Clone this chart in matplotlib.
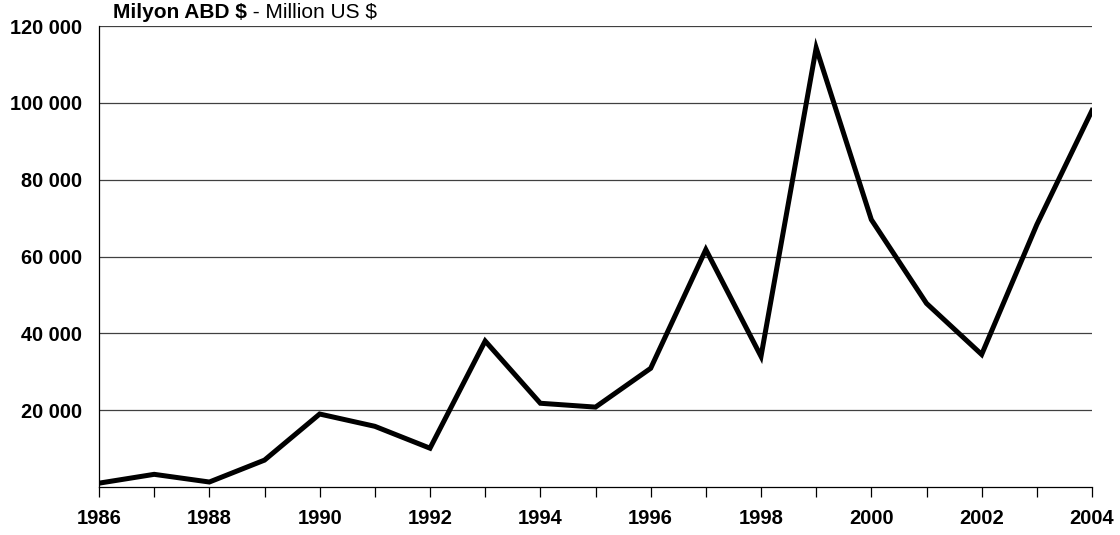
import matplotlib.pyplot as plt
from matplotlib.ticker import FuncFormatter

plt.rcParams['font.family'] = ['Liberation Sans', 'DejaVu Sans']

# data
years = list(range(1986, 2005))
values = [1000, 3300, 1300, 7000, 19000, 15800, 10100, 38000, 21800, 20800,
          30900, 61800, 34000, 114300, 69600, 47800, 34500, 68300, 98000]
ytick_vals = [20000, 40000, 60000, 80000, 100000, 120000]
xlabel_years = list(range(1986, 2005, 2))

fig = plt.figure(figsize=(11.2, 5.35), dpi=100)
ax = fig.add_axes([0.0884, 0.0897, 0.8866, 0.8617])

ax.plot(years, values, color='black', lw=3.6, solid_joinstyle='miter', zorder=3)

ax.set_xlim(1986, 2004)
ax.set_ylim(0, 120000)

for v in ytick_vals:
    ax.axhline(v, color='#404040', lw=0.9, zorder=1)

ax.set_yticks(ytick_vals)
ax.yaxis.set_major_formatter(FuncFormatter(lambda v, p: f'{int(v):,}'.replace(',', ' ')))
ax.tick_params(axis='y', length=0, pad=12, labelsize=14.3)
for t in ax.get_yticklabels():
    t.set_fontweight('bold')

ax.set_xticks(years)
ax.set_xticklabels([str(y) if y in xlabel_years else '' for y in years],
                   fontsize=14.5, fontweight='bold')
ax.tick_params(axis='x', length=7, width=0.9, direction='out', pad=9)

ax.spines['top'].set_visible(False)
ax.spines['right'].set_visible(False)
ax.spines['left'].set_linewidth(0.9)
ax.spines['bottom'].set_linewidth(0.9)

t1 = fig.text(0.101, 0.977, 'Milyon ABD $', fontsize=15, fontweight='bold', va='center')
ax.annotate(' - Million US $', xy=(1, 0.5), xycoords=t1, va='center', fontsize=15)

fig.savefig('out.png', dpi=100)
